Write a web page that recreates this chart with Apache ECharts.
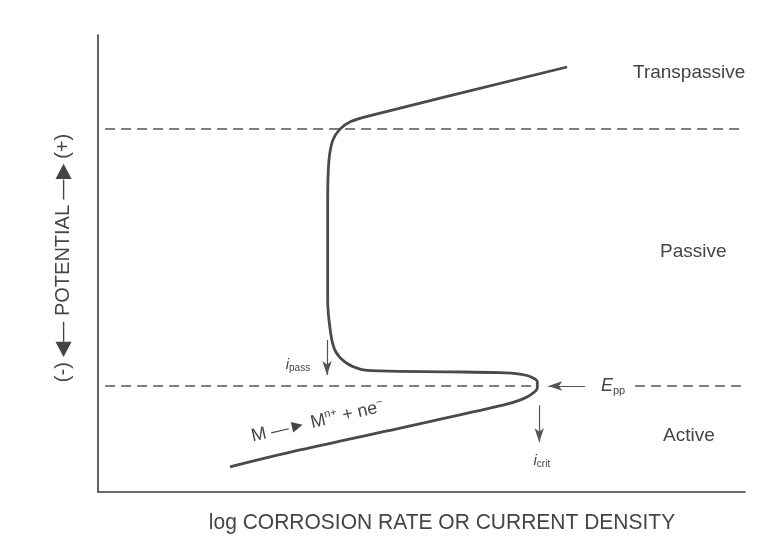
<!DOCTYPE html>
<html><head><meta charset="utf-8">
<script src="https://cdn.jsdelivr.net/npm/echarts@6/dist/echarts.min.js"></script>
<style>html,body{margin:0;padding:0;background:#fff}#c{width:781px;height:546px}</style>
</head><body><div id="c"></div>
<script>
// Polarization curve (log current density, potential), arbitrary units 0-100
var curveX = [20.4, 31.2, 46.7, 62.6, 65.2, 66.8, 67.9, 67.9, 66.9, 65.2, 62.1, 54.4, 43.6, 40.5, 38.2, 36.6, 35.9, 35.5, 35.5, 35.7, 36.3, 37.4, 39.0, 41.3, 72.5];
var curveY = [5.5, 9.2, 14.0, 19.0, 20.1, 21.2, 22.8, 24.1, 25.2, 25.8, 26.1, 26.3, 26.5, 26.9, 28.4, 31.1, 35.4, 42.0, 63.9, 72.6, 77.0, 79.4, 81.0, 82.1, 93.0];
var ePP = 23.2;          // primary passivation potential
var eTrans = 79.4;       // transpassive potential
var iCrit = 68.2;        // critical current density
var iPass = 35.4;        // passive current density
var regionLabels = ['Transpassive', 'Passive', 'Active'];
var xTitle = 'log CORROSION RATE OR CURRENT DENSITY';
var yTitle = '(-) ◀— POTENTIAL —▶ (+)';

var curve = curveX.map(function (x, i) { return [x, curveY[i]]; });
var ink = '#3c3c3c';
var txt = '#454545';
var font = '"Liberation Sans", Arial, sans-serif';

var chart = echarts.init(document.getElementById('c'));
chart.setOption({
  backgroundColor: '#ffffff',
  animation: false,
  grid: { left: 98, right: 36, top: 35, bottom: 54 },
  xAxis: {
    type: 'value', min: 0, max: 100,
    axisLine: { lineStyle: { color: ink, width: 1.6 } },
    axisTick: { show: false }, axisLabel: { show: false }, splitLine: { show: false }
  },
  yAxis: {
    type: 'value', min: 0, max: 100,
    axisLine: { lineStyle: { color: ink, width: 1.6 } },
    axisTick: { show: false }, axisLabel: { show: false }, splitLine: { show: false }
  },
  series: [{
    type: 'line',
    data: curve,
    smooth: 0.35,
    showSymbol: false,
    lineStyle: { color: '#4a4a4a', width: 2.8 },
    markLine: {
      silent: true,
      symbol: ['none', 'none'],
      label: { show: false },
      lineStyle: { color: '#555', width: 1.5, type: [10, 6] },
      data: [
        [{ coord: [1.1, eTrans] }, { coord: [99.7, eTrans] }],
        [{ coord: [1.1, ePP] }, { coord: [67.9, ePP] }],
        [{ coord: [83.0, ePP] }, { coord: [99.7, ePP] }],
        [{ coord: [75.3, ePP], lineStyle: { type: 'solid', width: 1.2 }, symbol: 'none' },
         { coord: [69.6, ePP], symbol: 'arrow', symbolSize: [7, 14] }],
        [{ coord: [iCrit, 19.0], lineStyle: { type: 'solid', width: 1.2 }, symbol: 'none' },
         { coord: [iCrit, 10.9], symbol: 'arrow', symbolSize: [7, 14] }],
        [{ coord: [iPass, 33.3], lineStyle: { type: 'solid', width: 1.2 }, symbol: 'none' },
         { coord: [iPass, 25.6], symbol: 'arrow', symbolSize: [7, 14] }]
      ]
    },
    markPoint: {
      silent: true,
      symbol: 'circle', symbolSize: 0,
      label: { show: true, fontFamily: font, color: txt },
      data: [
        { coord: [79.6, ePP], label: { formatter: '{e|E}{s|pp}',
          rich: { e: { fontSize: 18, fontStyle: 'italic', fontFamily: font, color: txt },
                  s: { fontSize: 11, fontFamily: font, color: txt, padding: [9, 0, 0, 0] } } } },
        { coord: [68.6, 6.8], label: { formatter: '{e|i}{s|crit}',
          rich: { e: { fontSize: 15, fontStyle: 'italic', fontFamily: font, color: txt },
                  s: { fontSize: 10, fontFamily: font, color: txt, padding: [7, 0, 0, 0] } } } },
        { coord: [30.9, 27.9], label: { formatter: '{e|i}{s|pass}',
          rich: { e: { fontSize: 15, fontStyle: 'italic', fontFamily: font, color: txt },
                  s: { fontSize: 10, fontFamily: font, color: txt, padding: [7, 0, 0, 0] } } } }
      ]
    }
  }],
  graphic: [
    { type: 'text', left: 633, top: 63, style: { text: regionLabels[0], font: '19px ' + font, fill: txt } },
    { type: 'text', left: 660, top: 242, style: { text: regionLabels[1], font: '19px ' + font, fill: txt } },
    { type: 'text', left: 663, top: 426, style: { text: regionLabels[2], font: '19px ' + font, fill: txt } },
    { type: 'text', x: 442, y: 523, scaleY: 1.08,
      style: { text: xTitle, font: '21px ' + font, fill: txt, align: 'center', verticalAlign: 'middle' } },
    { type: 'text', x: 63, y: 258, rotation: Math.PI / 2, scaleY: 1.05,
      style: { text: yTitle, font: '20px ' + font, fill: txt, align: 'center', verticalAlign: 'middle' } },
    { type: 'text', x: 254, y: 447, rotation: 0.226,
      style: { text: '{a|M —► M}{s|n+}{a| + ne}{s|−}',
        rich: { a: { fontSize: 18, fontFamily: font, fill: txt },
                s: { fontSize: 11, fontFamily: font, fill: txt, padding: [0, 0, 10, 0] } },
        verticalAlign: 'bottom' } }
  ]
});
</script></body></html>
